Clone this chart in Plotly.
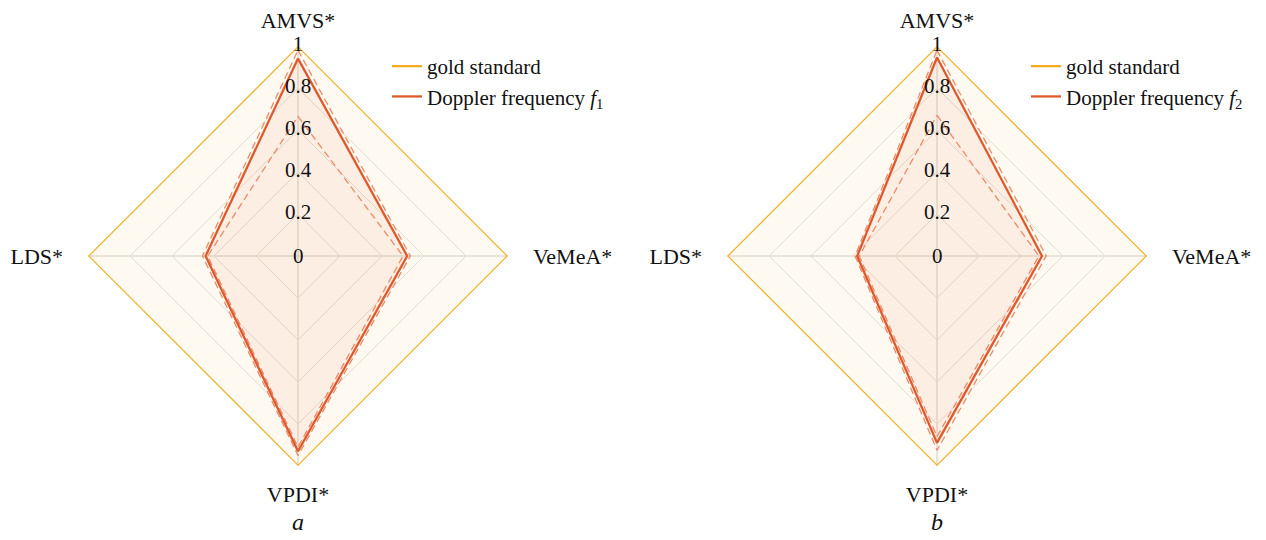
import plotly.graph_objects as go

categories = ["AMVS*", "VeMeA*", "VPDI*", "LDS*"]
gold = [1, 1, 1, 1]

f1_mean = [0.94, 0.52, 0.93, 0.44]
f1_upper = [0.98, 0.535, 0.95, 0.455]
f1_lower = [0.665, 0.50, 0.91, 0.43]

f2_mean = [0.945, 0.50, 0.89, 0.38]
f2_upper = [0.98, 0.52, 0.925, 0.39]
f2_lower = [0.67, 0.485, 0.86, 0.37]

radial_ticks = [0, 0.2, 0.4, 0.6, 0.8, 1]
radial_labels = ["0", "0.2", "0.4", "0.6", "0.8", "1"]

series_names = ["Doppler frequency <i>f</i><sub>1</sub>", "Doppler frequency <i>f</i><sub>2</sub>"]
panel_letters = ["a", "b"]

GOLD = "#F1AD1F"
RED = "#DE5A2C"
DASH = "#EC8A68"
FONT = "Liberation Serif"
NB = "\u00a0"
tick_text = [categories[0], NB * 2 + categories[1], categories[2], categories[3] + NB * 2]


def close(v):
    return list(v) + [v[0]]


fig = go.Figure()
panels = [(f1_mean, f1_upper, f1_lower), (f2_mean, f2_upper, f2_lower)]
for i, (mean, up, lo) in enumerate(panels):
    sp = "polar" if i == 0 else "polar2"
    lg = "legend" if i == 0 else "legend2"
    th = close(categories)
    # fills (no legend)
    fig.add_trace(go.Scatterpolar(r=close(gold), theta=th, mode="none", fill="toself",
                                  fillcolor="rgba(241,173,31,0.06)", showlegend=False,
                                  subplot=sp, hoverinfo="skip"))
    fig.add_trace(go.Scatterpolar(r=close(mean), theta=th, mode="none", fill="toself",
                                  fillcolor="rgba(222,90,44,0.07)", showlegend=False,
                                  subplot=sp, hoverinfo="skip"))
    for b in (up, lo):
        fig.add_trace(go.Scatterpolar(r=close(b), theta=th, mode="lines",
                                      line=dict(color=DASH, width=1.3, dash="7px,4px"),
                                      showlegend=False, subplot=sp, hoverinfo="skip"))
    fig.add_trace(go.Scatterpolar(r=close(gold), theta=th, mode="lines",
                                  line=dict(color=GOLD, width=2.3),
                                  name="gold standard", subplot=sp, legend=lg))
    fig.add_trace(go.Scatterpolar(r=close(mean), theta=th, mode="lines",
                                  line=dict(color=RED, width=2.3),
                                  name=series_names[i], subplot=sp, legend=lg))
    fig.add_trace(go.Scatterpolar(r=radial_ticks[1:], theta=[categories[0]] * (len(radial_ticks) - 1),
                                  mode="text", text=radial_labels[1:], textposition="middle center",
                                  textfont=dict(family=FONT, size=21, color="#111"),
                                  showlegend=False, subplot=sp, hoverinfo="skip", cliponaxis=False))

W, H = 1266, 540
centers = [(298, 210), (937, 211)]
CY, TOP, BOT = 256, 46, 466


def polar_layout(cx, r):
    return dict(
        domain=dict(x=[(cx - r) / W, (cx + r) / W], y=[(H - BOT) / H, (H - TOP) / H]),
        gridshape="linear",
        bgcolor="rgba(0,0,0,0)",
        angularaxis=dict(rotation=90, direction="clockwise", showline=False,
                         ticks="outside", ticklen=9, tickcolor="rgba(0,0,0,0)",
                         tickvals=categories, ticktext=tick_text,
                         gridcolor="#d3cfc9", gridwidth=1.3,
                         tickfont=dict(family=FONT, size=22, color="#111"),
                         categoryorder="array", categoryarray=categories),
        radialaxis=dict(range=[0, 1], tickvals=[0.2, 0.4, 0.6, 0.8], showticklabels=False,
                        showline=False, ticks="", gridcolor="#e4e1dc", gridwidth=1),
    )


annotations = []
for (cx, r), letter in zip(centers, panel_letters):
    # radial-axis origin label at the polar centre
    annotations.append(dict(text=radial_labels[0], x=cx / W, y=1 - CY / H, xref="paper", yref="paper",
                            xanchor="center", yanchor="middle", showarrow=False,
                            font=dict(family=FONT, size=21, color="#111")))
    annotations.append(dict(text="<i>%s</i>" % letter, x=cx / W, y=1 - 522 / H, xref="paper", yref="paper",
                            xanchor="center", yanchor="middle", showarrow=False,
                            font=dict(family=FONT, size=24, color="#111")))

fig.update_layout(
    width=W, height=H,
    margin=dict(l=0, r=0, t=0, b=0),
    paper_bgcolor="white",
    polar=polar_layout(*centers[0]),
    polar2=polar_layout(*centers[1]),
    legend=dict(x=387 / W, y=1 - 46 / H, xanchor="left", yanchor="top",
                font=dict(family=FONT, size=21, color="#111"), bgcolor="rgba(0,0,0,0)",
                tracegroupgap=0),
    legend2=dict(x=1026 / W, y=1 - 46 / H, xanchor="left", yanchor="top",
                 font=dict(family=FONT, size=21, color="#111"), bgcolor="rgba(0,0,0,0)",
                 tracegroupgap=0),
    annotations=annotations,
)

fig.write_html("out.html", config={"displayModeBar": False},
               post_script="document.body.style.margin='0';")
